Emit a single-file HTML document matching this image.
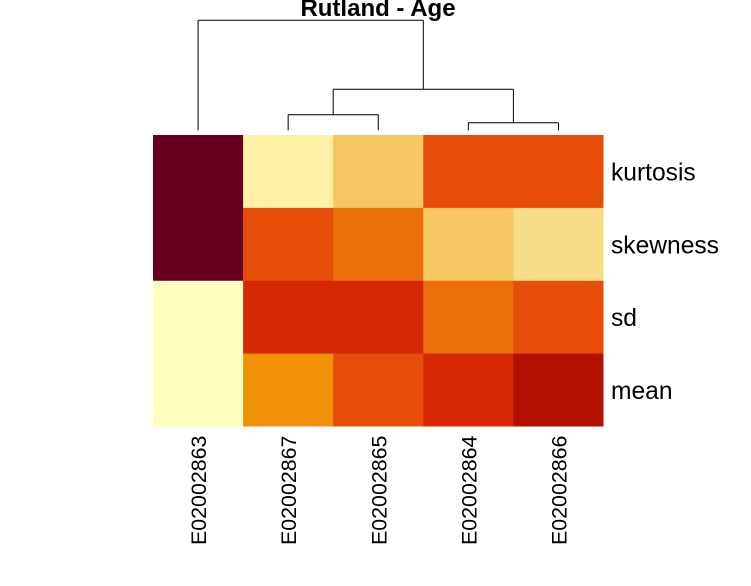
<!DOCTYPE html>
<html>
<head>
<meta charset="utf-8">
<title>Rutland - Age</title>
<style>
html,body{margin:0;padding:0;background:#fff;width:751px;height:586px;overflow:hidden}
svg{display:block}
text{font-family:"Liberation Sans",Arial,sans-serif;fill:#000}
</style>
</head>
<body>
<svg id="chart" width="751" height="586" viewBox="0 0 751 586">
<text x="378" y="16" text-anchor="middle" font-size="24" font-weight="bold">Rutland - Age</text>
<g id="dendrogram"></g>
<g id="cells"></g>
<g id="rowLabels"></g>
<g id="colLabels"></g>
</svg>
<script>
const columns = ['E02002863','E02002867','E02002865','E02002864','E02002866'];
const rows = ['kurtosis','skewness','sd','mean'];
const kurtosisValues = [1.0, 0.2, 0.4, 0.7, 0.7];
const skewnessValues = [1.0, 0.7, 0.6, 0.4, 0.3];
const sdValues = [0.1, 0.8, 0.8, 0.6, 0.7];
const meanValues = [0.1, 0.5, 0.7, 0.8, 0.9];
const matrix = [kurtosisValues, skewnessValues, sdValues, meanValues];
const scaleLevels = [0.1, 0.2, 0.3, 0.4, 0.5, 0.6, 0.7, 0.8, 0.9, 1.0];
const scaleColors = ['#ffffbd','#fef1a6','#f8dd88','#f5c662','#f09108','#ec6f0a','#e64d0a','#d72804','#b31002','#67001f'];
const mergeHeights = [7.6, 15.6, 41, 110];
const mergeLeft = ['E02002864','E02002867','m1','E02002863'];
const mergeRight = ['E02002866','E02002865','m0','m2'];

const NS = 'http://www.w3.org/2000/svg';
const plot = {x0:153, x1:603.5, y0:135, y1:426.5};
const cw = (plot.x1 - plot.x0) / columns.length;
const rh = (plot.y1 - plot.y0) / rows.length;
const xOf = i => plot.x0 + cw * i;
const yOf = j => plot.y0 + rh * j;
const leafBase = 130.3;
const hY = h => leafBase - h;

function hexToRgb(h){return [1,3,5].map(i => parseInt(h.substr(i,2),16));}
function colorFor(v){
  if (v <= scaleLevels[0]) return scaleColors[0];
  const last = scaleLevels.length - 1;
  if (v >= scaleLevels[last]) return scaleColors[last];
  let k = 0;
  while (v > scaleLevels[k+1]) k++;
  const t = (v - scaleLevels[k]) / (scaleLevels[k+1] - scaleLevels[k]);
  const a = hexToRgb(scaleColors[k]), b = hexToRgb(scaleColors[k+1]);
  return 'rgb(' + a.map((c,i) => Math.round(c + (b[i]-c)*t)).join(',') + ')';
}

const cellsG = document.getElementById('cells');
matrix.forEach((rowVals, j) => {
  rowVals.forEach((v, i) => {
    const r = document.createElementNS(NS,'rect');
    r.setAttribute('x', xOf(i));
    r.setAttribute('y', yOf(j));
    r.setAttribute('width', cw + (i < columns.length-1 ? 0.4 : 0));
    r.setAttribute('height', rh + (j < rows.length-1 ? 0.4 : 0));
    r.setAttribute('fill', colorFor(v));
    
    
    cellsG.appendChild(r);
  });
});

const rowG = document.getElementById('rowLabels');
rows.forEach((name, j) => {
  const t = document.createElementNS(NS,'text');
  t.setAttribute('x', 611);
  t.setAttribute('y', yOf(j) + rh/2 + 9);
  t.setAttribute('font-size', '24.6');
  t.textContent = name;
  
  
  rowG.appendChild(t);
});

const colG = document.getElementById('colLabels');
columns.forEach((name, i) => {
  const cx = xOf(i) + cw/2 + 8;
  const t = document.createElementNS(NS,'text');
  t.setAttribute('transform', 'translate(' + cx + ',545) rotate(-90)');
  t.setAttribute('font-size', '21.4');
  t.textContent = name;
  
  
  colG.appendChild(t);
});

const dendG = document.getElementById('dendrogram');
function seg(x1,y1,x2,y2,label){
  const l = document.createElementNS(NS,'line');
  l.setAttribute('x1',x1);
  l.setAttribute('y1',y1);
  l.setAttribute('x2',x2);
  l.setAttribute('y2',y2);
  l.setAttribute('stroke','#000');
  l.setAttribute('stroke-width','1');
  
  
  dendG.appendChild(l);
}
const nodes = {};
columns.forEach((name, i) => { nodes[name] = {x: xOf(i) + cw/2, y: leafBase}; });
mergeHeights.forEach((h, m) => {
  const a = nodes[mergeLeft[m]], b = nodes[mergeRight[m]];
  const y = hY(h);
  const left = a.x < b.x ? a : b, right = a.x < b.x ? b : a;
  seg(left.x, y, right.x, y, 'dendrogram-bar-' + m);
  seg(left.x, y, left.x, left.y, 'dendrogram-left-stem-' + m);
  seg(right.x, y, right.x, right.y, 'dendrogram-right-stem-' + m);
  nodes['m' + m] = {x: (left.x + right.x) / 2, y: y};
});
</script>
</body>
</html>
